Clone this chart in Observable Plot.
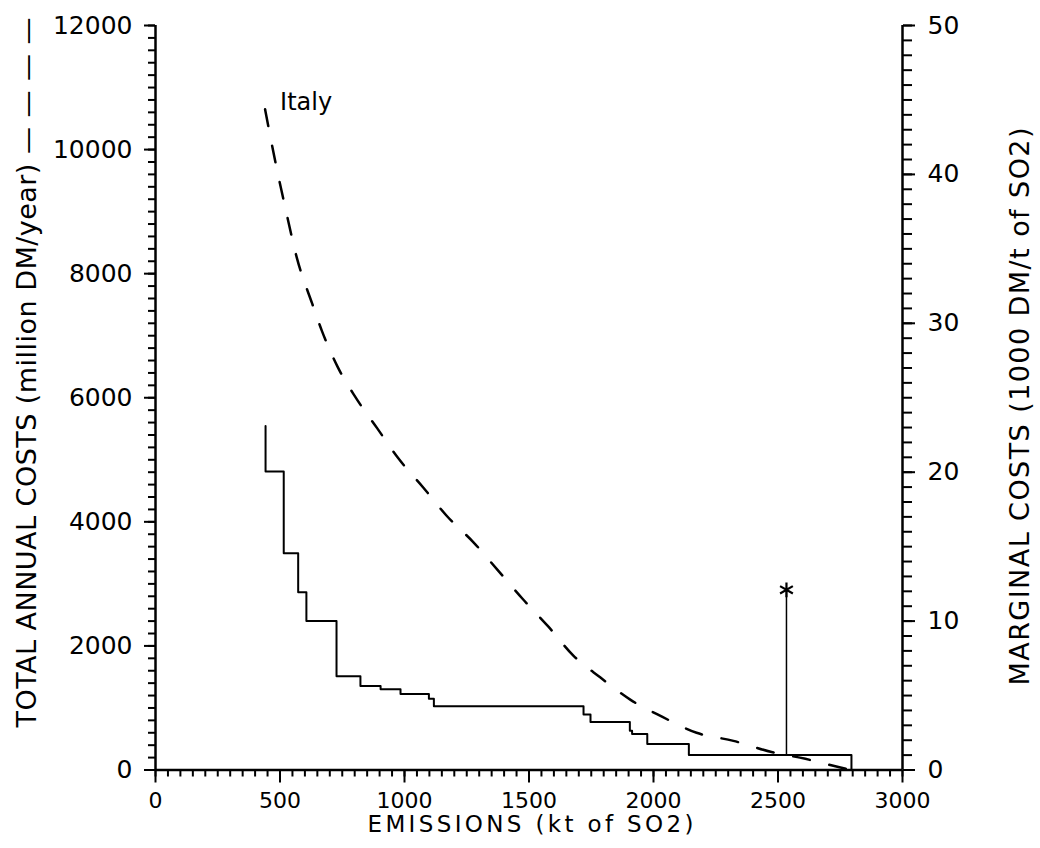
<!DOCTYPE html>
<html><head><meta charset="utf-8">
<script src="https://cdn.jsdelivr.net/npm/d3@7"></script>
<script src="https://cdn.jsdelivr.net/npm/@observablehq/plot@0.6"></script>
<style>body{margin:0;background:#fff;}</style>
</head><body><div id="chart"></div>
<script>
// Marginal cost step curve (1000 DM/t of SO2) — each point = (end of step, step value)
const stepEmission = [442, 515, 573, 606, 727, 823, 904, 984, 1098, 1118, 1719, 1747, 1905, 1914, 1975, 2142, 2795, 2795];
const stepMarginal = [23.1, 20.05, 14.56, 11.93, 10.0, 6.30, 5.64, 5.43, 5.10, 4.78, 4.28, 3.73, 3.23, 2.63, 2.41, 1.75, 1.0, 0];

// Total annual cost curve (million DM/year), dashed
const totalEmission = [440, 482, 522, 568, 629, 669, 730, 803, 890, 976, 1076, 1171, 1277, 1377, 1474, 1578, 1679, 1787, 1908, 2036, 2173, 2321, 2474, 2610, 2751, 2795];
const totalCost = [10650, 9790, 9050, 8250, 7520, 7070, 6510, 6010, 5510, 5020, 4550, 4090, 3670, 3210, 2760, 2310, 1840, 1490, 1130, 855, 600, 470, 290, 180, 40, 0];

// Marked point (asterisk) on the marginal cost axis
const markerEmission = [2534];
const markerBase = [1.0];
const markerMarginal = [12.1];

const xTicks = [0, 500, 1000, 1500, 2000, 2500, 3000];
const yLeftTicks = [0, 2000, 4000, 6000, 8000, 10000, 12000];
const yRightTicks = [0, 10, 20, 30, 40, 50];

const xTitle = "EMISSIONS (kt of SO2)";
const leftTitle = "TOTAL ANNUAL COSTS (million DM/year) \u2014 \u2014 \u2014 \u2014";
const rightTitle = "MARGINAL COSTS (1000 DM/t of SO2)";
const curveLabel = "Italy";

const RATIO = 12000 / 50; // left-axis units per right-axis unit

const stepData = stepEmission.map((x, i) => ({x, y: stepMarginal[i] * RATIO}));
const totalData = totalEmission.map((x, i) => ({x, y: totalCost[i]}));
const markerData = markerEmission.map((x, i) => ({x, y1: markerBase[i] * RATIO, y2: markerMarginal[i] * RATIO}));
const fmt = d3.format("d");

const chart = Plot.plot({
  width: 1040, height: 848,
  marginLeft: 155, marginRight: 138, marginTop: 25, marginBottom: 78.5,
  style: {fontFamily: "'DejaVu Sans', sans-serif", fontSize: "24px", color: "black", background: "white", overflow: "visible"},
  x: {domain: [0, 3000]},
  y: {domain: [0, 12000]},
  marks: [
    Plot.axisY({ticks: d3.range(0, 12001, 200), tickSize: 7, tickFormat: () => "", strokeWidth: 2, label: null}),
    Plot.axisY({ticks: yLeftTicks, tickSize: 11, tickPadding: 12, tickFormat: fmt, strokeWidth: 2, fontSize: 25, label: null}),
    Plot.axisY({anchor: "right", ticks: d3.range(0, 51, 1).map(v => v * RATIO), tickSize: 9, tickFormat: () => "", strokeWidth: 2, label: null}),
    Plot.axisY({anchor: "right", ticks: yRightTicks.map(v => v * RATIO), tickSize: 12, tickPadding: 13, tickFormat: d => fmt(d / RATIO), strokeWidth: 2, fontSize: 25, label: null}),
    Plot.axisX({ticks: d3.range(0, 3001, 50), tickSize: 7, tickFormat: () => "", strokeWidth: 2, label: null}),
    Plot.axisX({ticks: xTicks, tickSize: 13, tickPadding: 9, tickFormat: fmt, strokeWidth: 2, fontSize: 22, label: null}),
    Plot.ruleX([0], {strokeWidth: 2.5}),
    Plot.ruleX([3000], {strokeWidth: 2.5}),
    Plot.ruleY([0], {strokeWidth: 2.5}),
    Plot.line(totalData, {x: "x", y: "y", curve: "monotone-x", strokeWidth: 2.5, strokeDasharray: "17,20"}),
    Plot.line(stepData, {x: "x", y: "y", curve: "step-before", strokeWidth: 2}),
    Plot.ruleX(markerData, {x: "x", y1: "y1", y2: "y2", strokeWidth: 1.5}),
    Plot.dot(markerData, {x: "x", y: "y2", symbol: "asterisk", r: 7, stroke: "black", strokeWidth: 2.2}),
    Plot.text([curveLabel], {x: totalEmission[0], y: totalCost[0], textAnchor: "start", lineAnchor: "bottom", dx: 15, dy: 1, fontSize: 24}),
    Plot.text([xTitle], {frameAnchor: "bottom", textAnchor: "middle", dx: 1.5, dy: 54.5, lineAnchor: "middle", fontSize: 23}),
    Plot.text([leftTitle], {frameAnchor: "left", textAnchor: "middle", rotate: -90, dx: -128, dy: -25.25, lineAnchor: "middle", fontSize: 27}),
    Plot.text([rightTitle], {frameAnchor: "right", textAnchor: "middle", rotate: -90, dx: 118, dy: 8.75, lineAnchor: "middle", fontSize: 27})
  ]
});

const fit = (str, len) => d3.select(chart).selectAll("text")
  .filter(function () { return this.textContent === str; })
  .attr("textLength", len).attr("lengthAdjust", "spacing");
fit(xTitle, 326);
fit(leftTitle, 710);
fit(rightTitle, 558);

document.getElementById("chart").appendChild(chart);
</script>
</body></html>
